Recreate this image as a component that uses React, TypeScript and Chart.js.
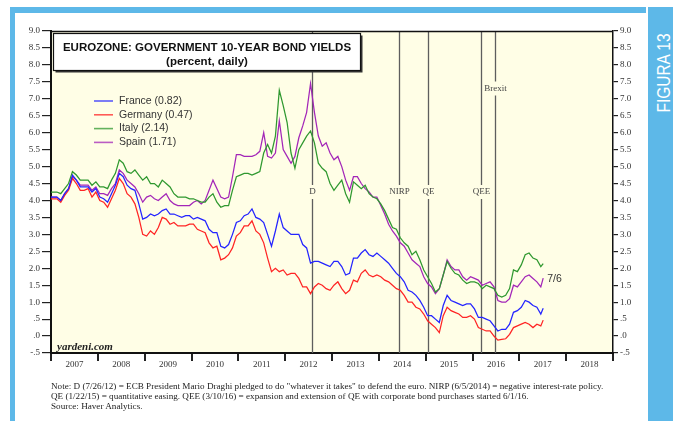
import React, { useEffect, useRef } from "react";
import { Chart, registerables } from "chart.js";

Chart.register(...registerables);

// ---------- DATA ----------
const START_YEAR = 2007; // monthly observations from Jan 2007
const END_DATE = "2017-07-06"; // last observation
const END_LABEL = "7/6";

const SERIES_NAMES = ["France (0.82)", "Germany (0.47)", "Italy (2.14)", "Spain (1.71)"];
const SERIES_COLORS = ["#2424ff", "#ff2424", "#2f982f", "#a326b8"];

const FRANCE = [
  4.1, 4.1, 4.0, 4.2, 4.35, 4.75, 4.6, 4.4, 4.4, 4.4, 4.25, 4.35,
  4.1, 4.05, 3.95, 4.2, 4.45, 4.8, 4.7, 4.45, 4.35, 4.3, 3.9, 3.45,
  3.5, 3.6, 3.55, 3.6, 3.7, 3.75, 3.6, 3.6, 3.55, 3.5, 3.55, 3.55,
  3.45, 3.5, 3.45, 3.4, 3.15, 3.05, 3.05, 2.65, 2.6, 2.7, 3.0, 3.35,
  3.4, 3.55, 3.6, 3.75, 3.5, 3.45, 3.35, 3.0, 2.65, 3.1, 3.6, 3.2,
  3.1, 3.0, 3.0, 3.0, 2.7, 2.6, 2.15, 2.2, 2.2, 2.15, 2.1, 2.05,
  2.2, 2.2, 2.05, 1.8, 1.85, 2.3, 2.3, 2.45, 2.55, 2.4, 2.35, 2.45,
  2.35, 2.25, 2.15, 2.0, 1.85, 1.75, 1.6, 1.35, 1.3, 1.2, 1.05, 0.85,
  0.6, 0.6, 0.5, 0.4, 0.9, 1.2, 1.05, 1.0, 0.95, 0.9, 0.95, 0.95,
  0.8, 0.55, 0.55, 0.5, 0.45, 0.3, 0.15, 0.2, 0.2, 0.35, 0.7, 0.75,
  0.85, 1.05, 1.0, 0.9, 0.85, 0.65, 0.82,
];

const GERMANY = [
  4.05, 4.05, 3.95, 4.15, 4.3, 4.65, 4.5, 4.3, 4.3, 4.35, 4.1, 4.25,
  4.0, 3.95, 3.8, 4.05, 4.3, 4.65, 4.5, 4.2, 4.1, 3.9, 3.5, 3.0,
  2.95, 3.1, 3.0, 3.2, 3.5, 3.45, 3.3, 3.35, 3.25, 3.25, 3.25, 3.3,
  3.3, 3.15, 3.1, 3.05, 2.75, 2.6, 2.65, 2.25, 2.3, 2.4, 2.6, 2.95,
  3.05, 3.25, 3.25, 3.4, 3.1, 3.0, 2.75, 2.3, 1.9, 2.0, 1.9, 1.95,
  1.8, 1.85, 1.85, 1.7, 1.45, 1.45, 1.25, 1.45, 1.55, 1.5, 1.4, 1.35,
  1.5, 1.6, 1.4, 1.25, 1.35, 1.65, 1.6, 1.85, 1.95, 1.8, 1.75, 1.8,
  1.75, 1.65, 1.6, 1.5, 1.4, 1.35, 1.2, 1.0, 1.0, 0.85, 0.8, 0.65,
  0.45, 0.35, 0.25, 0.1, 0.6, 0.85, 0.75, 0.7, 0.65, 0.55, 0.55, 0.6,
  0.5, 0.25, 0.2, 0.15, 0.15, 0.0, -0.12, -0.1, -0.08, 0.05, 0.25, 0.3,
  0.35, 0.4, 0.35, 0.25, 0.35, 0.3, 0.47,
];

const ITALY = [
  4.25, 4.25, 4.2, 4.35, 4.5, 4.85, 4.75, 4.6, 4.6, 4.6, 4.45, 4.55,
  4.4, 4.4, 4.35, 4.6, 4.8, 5.2, 5.1, 4.85, 4.8, 4.9, 4.75, 4.6,
  4.7, 4.5, 4.5, 4.4, 4.6, 4.5, 4.4, 4.2, 4.1, 4.1, 4.1, 4.05,
  4.05, 4.0, 3.95, 3.95, 4.1, 4.2, 3.95, 3.8, 3.85, 3.85, 4.3, 4.7,
  4.75, 4.8, 4.8, 4.75, 4.8, 4.85, 5.4, 5.65, 5.4, 5.9, 7.25, 6.8,
  6.3, 5.4, 4.95, 5.5, 5.7, 5.9, 6.05, 5.7, 5.1, 4.95, 4.85, 4.5,
  4.3, 4.45, 4.6, 4.2, 3.95, 4.55, 4.45, 4.35, 4.45, 4.2, 4.1, 4.05,
  3.9, 3.7, 3.45, 3.2, 3.15, 2.9, 2.75, 2.65, 2.4, 2.5, 2.25, 1.95,
  1.75, 1.55, 1.3, 1.4, 1.8, 2.2, 2.0, 1.85, 1.8, 1.65, 1.55, 1.6,
  1.6, 1.55, 1.4, 1.5, 1.45, 1.4, 1.2, 1.15, 1.2, 1.4, 1.95, 1.9,
  2.1, 2.4, 2.45, 2.3, 2.25, 2.05, 2.14,
];

const SPAIN = [
  4.1, 4.1, 4.0, 4.2, 4.35, 4.7, 4.6, 4.45, 4.45, 4.45, 4.3, 4.4,
  4.2, 4.2, 4.15, 4.35, 4.5, 4.9, 4.8, 4.6, 4.5, 4.4, 4.2, 3.95,
  4.1, 4.15, 4.05, 4.0, 4.1, 4.2, 4.0, 3.9, 3.85, 3.85, 3.85, 3.85,
  3.95, 4.0, 3.9, 4.0, 4.3, 4.6, 4.35, 4.1, 4.05, 4.1, 4.7, 5.35,
  5.35, 5.3, 5.3, 5.3, 5.35, 5.45, 6.0, 5.3, 5.25, 5.4, 6.35, 5.5,
  5.3, 5.1, 5.3, 5.85, 6.2, 6.6, 7.45, 6.6, 5.9, 5.6, 5.7, 5.4,
  5.2, 5.3, 5.0, 4.6, 4.3, 4.7, 4.7, 4.5, 4.35, 4.25, 4.1, 4.1,
  3.85, 3.6, 3.3, 3.1, 2.95, 2.75, 2.65, 2.45, 2.25, 2.15, 2.05, 1.75,
  1.55, 1.45, 1.25, 1.4, 1.8, 2.25, 2.05, 1.95, 1.95, 1.75, 1.65, 1.75,
  1.7, 1.65, 1.5, 1.55, 1.6, 1.45, 1.05, 1.0, 1.0, 1.1, 1.5, 1.45,
  1.6, 1.75, 1.8, 1.7, 1.6, 1.45, 1.71,
];

const SERIES = [FRANCE, GERMANY, ITALY, SPAIN];

const EVENT_LABELS = ["D", "NIRP", "QE", "QEE", "Brexit"];
const EVENT_DATES = ["2012-07-26", "2014-06-05", "2015-01-22", "2016-03-10", "2016-06-23"];
const EVENT_LABEL_VALUES = [4.25, 4.25, 4.25, 4.25, 7.3];

const X_MIN = 2007;
const X_MAX = 2019;
const Y_MIN = -0.5;
const Y_MAX = 9;
const Y_STEP = 0.5;

const TITLE = "EUROZONE: GOVERNMENT 10-YEAR BOND YIELDS";
const SUBTITLE = "(percent, daily)";
const WATERMARK = "yardeni.com";
const NOTES = [
  'Note: D (7/26/12) = ECB President Mario Draghi pledged to do "whatever it takes" to defend the euro. NIRP (6/5/2014) = negative interest-rate policy.',
  "QE (1/22/15) = quantitative easing. QEE (3/10/16) = expansion and extension of QE with corporate bond purchases started 6/1/16.",
  "Source: Haver Analytics.",
];
const SIDE_LABEL = "FIGURA 13";

// ---------- helpers ----------
function dateToYear(s: string): number {
  const [y, m, d] = s.split("-").map(Number);
  const start = Date.UTC(y, 0, 1);
  const end = Date.UTC(y + 1, 0, 1);
  return y + (Date.UTC(y, m - 1, d) - start) / (end - start);
}

function xFor(i: number, n: number): number {
  if (i === 0) return START_YEAR;
  if (i === n - 1) return dateToYear(END_DATE);
  return START_YEAR + i / 12 + 1 / 24;
}

function fmtY(v: number): string {
  let s = Number(v).toFixed(1);
  if (Math.abs(v) < 1) s = s.replace("0.", ".");
  return s;
}

const BLUE = "#5db8e8";

const decorPlugin = {
  id: "decor",
  beforeDraw(chart: any) {
    const { ctx, chartArea: a } = chart;
    ctx.save();
    ctx.fillStyle = "#fffee6";
    ctx.fillRect(a.left, a.top, a.right - a.left, a.bottom - a.top);
    ctx.restore();
  },
  beforeDatasetsDraw(chart: any) {
    const { ctx, chartArea: a, scales } = chart;
    ctx.save();
    ctx.strokeStyle = "#5e5e5e";
    ctx.lineWidth = 1.3;
    ctx.font = '9px "Liberation Serif"';
    ctx.fillStyle = "#444";
    ctx.textAlign = "center";
    ctx.textBaseline = "middle";
    EVENT_DATES.forEach((d, i) => {
      const x = Math.round(scales.x.getPixelForValue(dateToYear(d))) + 0.5;
      const ly = scales.y.getPixelForValue(EVENT_LABEL_VALUES[i]);
      ctx.beginPath();
      ctx.moveTo(x, a.top);
      ctx.lineTo(x, ly - 7);
      ctx.moveTo(x, ly + 7);
      ctx.lineTo(x, a.bottom);
      ctx.stroke();
      ctx.fillText(EVENT_LABELS[i], x, ly);
    });
    ctx.restore();
  },
  afterDatasetsDraw(chart: any) {
    const { ctx, chartArea: a, scales } = chart;
    ctx.save();
    // top border
    ctx.strokeStyle = "#111";
    ctx.lineWidth = 1.5;
    ctx.beginPath();
    ctx.moveTo(a.left, a.top + 0.5);
    ctx.lineTo(a.right, a.top + 0.5);
    ctx.stroke();

    // title box
    const bx = a.left + 2.5;
    const by = a.top + 2.5;
    const bw = 307;
    const bh = 37;
    ctx.fillStyle = "#333";
    ctx.fillRect(bx + 2, by + 2, bw, bh);
    ctx.fillStyle = "#fff";
    ctx.fillRect(bx, by, bw, bh);
    ctx.strokeStyle = "#111";
    ctx.lineWidth = 1.2;
    ctx.strokeRect(bx, by, bw, bh);
    ctx.fillStyle = "#111";
    ctx.textAlign = "center";
    ctx.textBaseline = "middle";
    ctx.font = 'bold 11.5px "Liberation Sans"';
    ctx.fillText(TITLE, bx + bw / 2, by + 14, 292);
    ctx.fillText(SUBTITLE, bx + bw / 2, by + 28);

    // legend
    ctx.textAlign = "left";
    ctx.font = '10.5px "Liberation Sans"';
    SERIES_NAMES.forEach((name, i) => {
      const ly = a.top + 70 + i * 13.8;
      ctx.strokeStyle = SERIES_COLORS[i];
      ctx.globalAlpha = 0.75;
      ctx.lineWidth = 1.6;
      ctx.beginPath();
      ctx.moveTo(a.left + 43, ly);
      ctx.lineTo(a.left + 62, ly);
      ctx.stroke();
      ctx.globalAlpha = 1;
      ctx.fillStyle = "#333";
      ctx.fillText(name, a.left + 68, ly);
    });

    // end label
    const ex = scales.x.getPixelForValue(dateToYear(END_DATE)) + 4;
    ctx.fillStyle = "#333";
    ctx.font = '10.5px "Liberation Sans"';
    ctx.fillText(END_LABEL, ex, scales.y.getPixelForValue(1.68));

    // watermark
    ctx.font = 'italic bold 11px "Liberation Serif"';
    ctx.fillStyle = "#222";
    ctx.fillText(WATERMARK, a.left + 6, a.bottom - 6);
    ctx.restore();
  },
};

export default function App() {
  const ref = useRef<HTMLCanvasElement | null>(null);

  useEffect(() => {
    if (!ref.current) return;
    const datasets = SERIES.map((vals, si) => ({
      label: SERIES_NAMES[si],
      data: vals.map((v, i) => ({ x: xFor(i, vals.length), y: v })),
      borderColor: SERIES_COLORS[si],
      backgroundColor: SERIES_COLORS[si],
      borderWidth: 1.25,
      pointRadius: 0,
      tension: 0,
      fill: false,
    }));

    const yTicks = {
      stepSize: Y_STEP,
      autoSkip: false,
      padding: 2,
      color: "#333",
      font: { family: "Liberation Serif", size: 9 },
      callback: (v: any) => fmtY(Number(v)),
    };

    const chart = new Chart(ref.current, {
      type: "line",
      data: { datasets },
      plugins: [decorPlugin],
      options: {
        animation: false,
        responsive: false,
        maintainAspectRatio: false,
        layout: { padding: { top: 31, left: 0, right: 0, bottom: 0 } },
        plugins: {
          legend: { display: false },
          tooltip: { enabled: false },
        },
        scales: {
          x: {
            type: "linear",
            min: X_MIN,
            max: X_MAX,
            afterFit: (s: any) => {
              s.height = 68;
            },
            ticks: {
              stepSize: 1,
              autoSkip: false,
              maxRotation: 0,
              minRotation: 0,
              labelOffset: 23.4,
              padding: -2,
              color: "#333",
              font: { family: "Liberation Serif", size: 9 },
              callback: (v: any) => (Number(v) < X_MAX ? String(v) : ""),
            },
            grid: {
              drawOnChartArea: false,
              drawTicks: true,
              tickLength: 8,
              tickColor: "#222",
              lineWidth: 2,
            },
            border: { display: true, color: "#111", width: 2 },
          },
          y: {
            position: "left",
            min: Y_MIN,
            max: Y_MAX,
            afterFit: (s: any) => {
              s.width = 51;
            },
            ticks: yTicks,
            grid: {
              drawOnChartArea: false,
              tickLength: 9,
              tickColor: "#222",
              lineWidth: 1.2,
            },
            border: { display: true, color: "#111", width: 2 },
          },
          y2: {
            position: "right",
            min: Y_MIN,
            max: Y_MAX,
            afterFit: (s: any) => {
              s.width = 60;
            },
            ticks: yTicks,
            grid: {
              drawOnChartArea: false,
              tickLength: 5,
              tickColor: "#222",
              lineWidth: 1.2,
            },
            border: { display: true, color: "#111", width: 1.5 },
          },
        },
      },
    } as any);
    return () => chart.destroy();
  }, []);

  return (
    <div
      style={{
        position: "absolute",
        left: 0,
        top: 0,
        width: 673,
        height: 421,
        background: "#fff",
        overflow: "hidden",
      }}
    >
      <div style={{ position: "absolute", left: 10, top: 7, width: 636, height: 6, background: BLUE }} />
      <div style={{ position: "absolute", left: 10, top: 7, width: 5, height: 414, background: BLUE }} />
      <div style={{ position: "absolute", left: 648, top: 7, width: 25, height: 414, background: BLUE }} />
      <div
        style={{
          position: "absolute",
          left: 664 - 50,
          top: 73 - 11,
          width: 100,
          height: 22,
          lineHeight: "22px",
          textAlign: "center",
          color: "#fff",
          fontFamily: '"Liberation Sans", sans-serif',
          fontSize: 18,
          whiteSpace: "nowrap",
          transform: "rotate(-90deg) scaleX(0.86)",
          transformOrigin: "center center",
        }}
      >
        {SIDE_LABEL}
      </div>
      <canvas
        ref={ref}
        width={673}
        height={421}
        style={{ position: "absolute", left: 0, top: 0, width: 673, height: 421 }}
      />
      <div
        style={{
          position: "absolute",
          left: 51,
          top: 381,
          fontFamily: '"Liberation Serif", serif',
          fontSize: 9.15,
          lineHeight: "10px",
          color: "#222",
          whiteSpace: "nowrap",
        }}
      >
        {NOTES.map((t, i) => (
          <div key={i}>{t}</div>
        ))}
      </div>
    </div>
  );
}
